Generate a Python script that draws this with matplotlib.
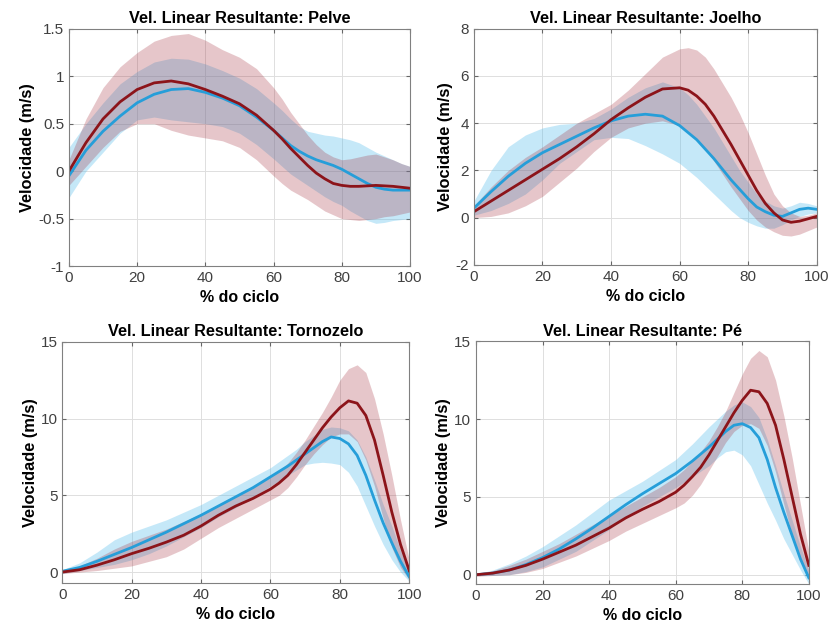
import matplotlib
matplotlib.use("Agg")
import matplotlib.pyplot as plt

plt.rcParams['font.family'] = ['Liberation Sans', 'DejaVu Sans']

# % do ciclo (sample positions)
x = [0, 5, 10, 15, 20, 25, 30, 35, 40, 45, 50, 55, 60,
     62.5, 65, 67.5, 70, 72.5, 75, 77.5, 80, 82.5, 85, 87.5, 90, 92.5, 95, 97.5, 100]

# Pelve
pelve_blue_mean = [-0.05, 0.22, 0.42, 0.58, 0.72, 0.81, 0.86, 0.87, 0.83, 0.77, 0.69, 0.57, 0.43,
                   0.35, 0.27, 0.21, 0.16, 0.12, 0.09, 0.06, 0.02, -0.03, -0.08, -0.13, -0.17, -0.19, -0.2, -0.2, -0.2]
pelve_blue_up = [0.25, 0.5, 0.72, 0.92, 1.05, 1.15, 1.19, 1.18, 1.13, 1.06, 0.98, 0.87, 0.72,
                 0.64, 0.55, 0.47, 0.42, 0.4, 0.38, 0.37, 0.35, 0.33, 0.3, 0.25, 0.2, 0.16, 0.12, 0.08, 0.05]
pelve_blue_lo = [-0.28, 0.0, 0.2, 0.4, 0.54, 0.57, 0.54, 0.52, 0.5, 0.47, 0.4, 0.28, 0.13,
                 0.05, -0.03, -0.09, -0.15, -0.21, -0.27, -0.32, -0.36, -0.42, -0.47, -0.52, -0.55, -0.54, -0.52, -0.51, -0.5]
pelve_red_mean = [0.0, 0.3, 0.55, 0.73, 0.86, 0.93, 0.95, 0.92, 0.86, 0.79, 0.71, 0.59, 0.43,
                  0.34, 0.24, 0.15, 0.06, -0.02, -0.08, -0.13, -0.15, -0.16, -0.16, -0.155, -0.15, -0.155, -0.16, -0.17, -0.18]
pelve_red_up = [0.12, 0.55, 0.88, 1.1, 1.25, 1.37, 1.43, 1.45, 1.38, 1.28, 1.2, 1.08, 0.88,
                0.76, 0.62, 0.5, 0.38, 0.28, 0.2, 0.15, 0.12, 0.13, 0.15, 0.17, 0.18, 0.15, 0.12, 0.08, 0.05]
pelve_red_lo = [-0.15, 0.05, 0.25, 0.42, 0.5, 0.5, 0.43, 0.38, 0.35, 0.32, 0.25, 0.12, -0.05,
                -0.13, -0.2, -0.25, -0.3, -0.36, -0.42, -0.46, -0.5, -0.51, -0.52, -0.51, -0.5, -0.48, -0.47, -0.45, -0.43]

# Joelho
joelho_blue_mean = [0.4, 1.1, 1.75, 2.3, 2.75, 3.1, 3.45, 3.8, 4.1, 4.3, 4.38, 4.3, 3.9,
                    3.6, 3.3, 2.9, 2.5, 2.05, 1.6, 1.2, 0.8, 0.45, 0.25, 0.1, 0.05, 0.2, 0.35, 0.4, 0.35]
joelho_blue_up = [0.7, 2.0, 3.0, 3.5, 3.8, 3.95, 4.0, 4.2, 4.6, 5.1, 5.5, 5.75, 5.5,
                  5.2, 4.8, 4.3, 3.8, 3.2, 2.6, 2.0, 1.5, 1.0, 0.7, 0.5, 0.4, 0.5, 0.65, 0.6, 0.5]
joelho_blue_lo = [0.1, 0.3, 0.6, 1.0, 1.6, 2.3, 2.8, 3.3, 3.4, 3.35, 3.05, 2.7, 2.3,
                  2.0, 1.7, 1.35, 1.0, 0.65, 0.3, 0.0, -0.2, -0.35, -0.45, -0.45, -0.3, -0.1, 0.05, 0.15, 0.2]
joelho_red_mean = [0.25, 0.7, 1.15, 1.6, 2.05, 2.5, 3.0, 3.55, 4.15, 4.65, 5.1, 5.45, 5.5,
                   5.4, 5.15, 4.8, 4.3, 3.7, 3.1, 2.45, 1.8, 1.15, 0.6, 0.2, -0.1, -0.2, -0.15, -0.05, 0.05]
joelho_red_up = [0.5, 1.3, 2.0, 2.55, 3.0, 3.5, 4.0, 4.4, 4.8, 5.4, 6.1, 6.8, 7.15,
                 7.2, 7.1, 6.8, 6.3, 5.7, 5.1, 4.4, 3.6, 2.7, 1.8, 1.0, 0.5, 0.2, 0.05, 0.1, 0.2]
joelho_red_lo = [0.0, 0.05, 0.2, 0.5, 0.9, 1.5, 2.1, 2.8, 3.4, 3.8, 4.0, 4.1, 3.9,
                 3.65, 3.3, 2.9, 2.4, 1.85, 1.3, 0.8, 0.3, -0.1, -0.4, -0.6, -0.75, -0.78, -0.7, -0.55, -0.4]

# Tornozelo
tornozelo_blue_mean = [0.05, 0.3, 0.7, 1.15, 1.6, 2.1, 2.6, 3.15, 3.7, 4.3, 4.9, 5.5, 6.2,
                       6.55, 6.9, 7.3, 7.7, 8.1, 8.5, 8.8, 8.7, 8.35, 7.6, 6.3, 4.7, 3.2, 1.9, 0.7, -0.3]
tornozelo_blue_up = [0.15, 0.6, 1.3, 2.1, 2.6, 3.0, 3.4, 3.9, 4.4, 5.0, 5.6, 6.2, 6.8,
                     7.2, 7.6, 8.0, 8.5, 8.9, 9.3, 9.45, 9.4, 9.2, 8.6, 7.5, 6.0, 4.4, 3.0, 1.4, 0.0]
tornozelo_blue_lo = [-0.1, 0.1, 0.3, 0.5, 0.8, 1.2, 1.7, 2.3, 2.9, 3.6, 4.2, 4.9, 5.6,
                     5.95, 6.3, 6.65, 7.0, 7.1, 7.15, 7.1, 7.0, 6.5, 5.6, 4.3, 3.0, 1.8, 0.8, 0.0, -0.6]
tornozelo_red_mean = [0.0, 0.15, 0.45, 0.8, 1.2, 1.55, 1.95, 2.4, 3.0, 3.7, 4.3, 4.8, 5.4,
                      5.8, 6.3, 7.0, 7.8, 8.6, 9.4, 10.1, 10.7, 11.15, 11.0, 10.2, 8.6, 6.3, 3.9, 1.8, 0.1]
tornozelo_red_up = [0.1, 0.4, 0.9, 1.5, 2.0, 2.4, 2.8, 3.3, 3.8, 4.4, 5.0, 5.6, 6.2,
                    6.6, 7.1, 7.8, 8.6, 9.5, 10.4, 11.4, 12.5, 13.25, 13.5, 13.0, 11.3, 9.0, 6.3, 3.4, 0.8]
tornozelo_red_lo = [-0.1, 0.0, 0.1, 0.25, 0.4, 0.7, 1.0, 1.5, 2.2, 2.9, 3.5, 4.1, 4.7,
                    5.0, 5.5, 6.2, 7.0, 7.7, 8.3, 8.8, 9.0, 9.0, 8.5, 7.3, 5.6, 3.5, 1.6, 0.3, -0.5]

# Pe
pe_blue_mean = [0.0, 0.1, 0.3, 0.65, 1.1, 1.65, 2.3, 3.0, 3.75, 4.5, 5.2, 5.85, 6.5,
                6.9, 7.3, 7.75, 8.2, 8.7, 9.2, 9.6, 9.7, 9.45, 8.8, 7.4, 5.6, 4.0, 2.5, 1.0, -0.2]
pe_blue_up = [0.05, 0.3, 0.7, 1.2, 1.8, 2.5, 3.2, 4.0, 4.8, 5.4, 6.0, 6.7, 7.4,
              7.9, 8.4, 8.95, 9.5, 10.0, 10.5, 10.9, 11.1, 10.8, 10.1, 8.7, 7.0, 5.2, 3.5, 1.8, 0.3]
pe_blue_lo = [-0.05, -0.05, 0.0, 0.2, 0.5, 1.0, 1.5, 2.2, 2.9, 3.7, 4.4, 5.0, 5.6,
              5.95, 6.3, 6.65, 7.0, 7.5, 7.9, 8.0, 7.7, 7.0, 5.8, 4.6, 3.5, 2.3, 1.3, 0.3, -0.6]
pe_red_mean = [0.0, 0.1, 0.3, 0.6, 1.0, 1.45, 1.9, 2.45, 3.0, 3.65, 4.2, 4.7, 5.3,
               5.75, 6.3, 6.9, 7.7, 8.6, 9.5, 10.4, 11.2, 11.85, 11.75, 11.0, 9.6, 7.4, 5.0, 2.6, 0.6]
pe_red_up = [0.1, 0.25, 0.6, 1.0, 1.5, 2.0, 2.6, 3.2, 3.8, 4.4, 5.0, 5.6, 6.3,
             6.75, 7.3, 7.9, 8.6, 9.5, 10.5, 11.7, 12.9, 13.9, 14.4, 14.0, 12.5, 10.2, 7.5, 4.5, 1.5]
pe_red_lo = [-0.1, -0.05, 0.0, 0.15, 0.4, 0.8, 1.2, 1.7, 2.2, 2.8, 3.3, 3.8, 4.3,
             4.6, 5.1, 5.8, 6.7, 7.6, 8.5, 9.2, 9.6, 9.7, 9.4, 8.3, 6.6, 4.5, 2.5, 0.9, -0.3]

titles = ["Vel. Linear Resultante: Pelve", "Vel. Linear Resultante: Joelho",
          "Vel. Linear Resultante: Tornozelo", "Vel. Linear Resultante: Pé"]
ylims = [(-1, 1.5), (-2, 8), (-0.7, 15), (-0.6, 15)]
yticks = [[-1, -0.5, 0, 0.5, 1, 1.5], [-2, 0, 2, 4, 6, 8], [0, 5, 10, 15], [0, 5, 10, 15]]
yticklabels = [["-1", "-0.5", "0", "0.5", "1", "1.5"], ["-2", "0", "2", "4", "6", "8"],
               ["0", "5", "10", "15"], ["0", "5", "10", "15"]]
xticks = [0, 20, 40, 60, 80, 100]

data = [
    (pelve_blue_mean, pelve_blue_up, pelve_blue_lo, pelve_red_mean, pelve_red_up, pelve_red_lo),
    (joelho_blue_mean, joelho_blue_up, joelho_blue_lo, joelho_red_mean, joelho_red_up, joelho_red_lo),
    (tornozelo_blue_mean, tornozelo_blue_up, tornozelo_blue_lo, tornozelo_red_mean, tornozelo_red_up, tornozelo_red_lo),
    (pe_blue_mean, pe_blue_up, pe_blue_lo, pe_red_mean, pe_red_up, pe_red_lo),
]

positions = [
    [0.083, 0.575, 0.411, 0.379],
    [0.571, 0.577, 0.413, 0.377],
    [0.075, 0.069, 0.418, 0.385],
    [0.5735, 0.067, 0.401, 0.388],
]

fig = plt.figure(figsize=(8.3, 6.26), dpi=100)
for i in range(4):
    ax = fig.add_axes(positions[i])
    bm, bu, bl, rm, ru, rl = data[i]
    ax.fill_between(x, bl, bu, color=(0.35, 0.75, 0.93), alpha=0.35, linewidth=0)
    ax.plot(x, bm, color=(0.15, 0.62, 0.85), linewidth=2, solid_joinstyle='round')
    ax.fill_between(x, rl, ru, color=(0.62, 0.12, 0.18), alpha=0.25, linewidth=0)
    ax.plot(x, rm, color=(0.55, 0.08, 0.1), linewidth=2, solid_joinstyle='round')
    ax.set_xlim(0, 100)
    ax.set_ylim(*ylims[i])
    ax.set_xticks(xticks)
    ax.set_xticklabels([str(t) for t in xticks])
    ax.set_yticks(yticks[i])
    ax.set_yticklabels(yticklabels[i])
    ax.grid(True, color=(0.87, 0.87, 0.87), linewidth=0.7)
    ax.set_axisbelow(True)
    ax.tick_params(direction='in', length=3, color=(0.4, 0.4, 0.4), labelsize=11,
                   labelcolor=(0.25, 0.25, 0.25), top=True, right=True)
    for s in ax.spines.values():
        s.set_color((0.5, 0.5, 0.5))
        s.set_linewidth(0.8)
    ax.set_title(titles[i], fontsize=11.7, fontweight='bold', pad=4)
    ax.set_xlabel("% do ciclo", fontsize=11.5, fontweight='bold', labelpad=4)
    ax.set_ylabel("Velocidade (m/s)", fontsize=11.8, fontweight='bold', labelpad=2)

fig.savefig("out.png", dpi=100, facecolor='white')
